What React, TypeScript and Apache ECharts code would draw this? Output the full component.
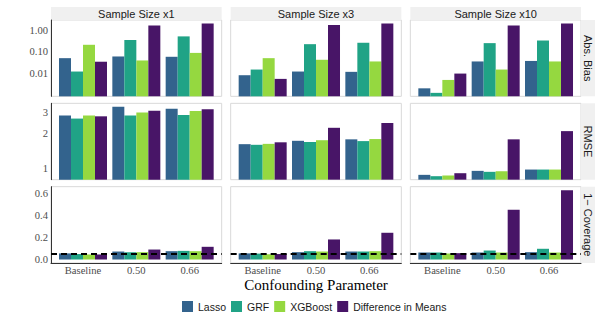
import React, { useEffect, useRef } from 'react';
import * as echarts from 'echarts';

// ---------- data ----------
const categories = ['Baseline', '0.50', '0.66'];
const methods = ['Lasso', 'GRF', 'XGBoost', 'Difference in Means'];
const methodColors = ['#33638D', '#20A386', '#95D840', '#481567'];
const sampleSizes = ['Sample Size x1', 'Sample Size x3', 'Sample Size x10'];
const metrics = ['Abs. Bias', 'RMSE', '1\u2212 Coverage'];

// each panel: one row per method (Lasso, GRF, XGBoost, Difference in Means), values per category
const biasX1 = [
  [0.051, 0.061, 0.059],
  [0.0124, 0.35, 0.51],
  [0.21, 0.04, 0.089],
  [0.035, 1.63, 2.0],
];
const biasX3 = [
  [0.0084, 0.0124, 0.012],
  [0.0153, 0.224, 0.26],
  [0.051, 0.043, 0.036],
  [0.0057, 1.68, 2.0],
];
const biasX10 = [
  [0.0021, 0.036, 0.038],
  [0.0013, 0.25, 0.33],
  [0.0051, 0.0153, 0.036],
  [0.01, 1.63, 2.0],
];
const rmseX1 = [
  [2.83, 3.36, 3.24],
  [2.67, 2.83, 2.86],
  [2.83, 3.01, 3.09],
  [2.79, 3.11, 3.21],
];
const rmseX3 = [
  [1.62, 1.73, 1.78],
  [1.6, 1.69, 1.72],
  [1.63, 1.75, 1.79],
  [1.68, 2.23, 2.45],
];
const rmseX10 = [
  [0.89, 0.962, 0.987],
  [0.867, 0.944, 0.987],
  [0.879, 0.955, 0.987],
  [0.919, 1.78, 2.09],
];
const coverageX1 = [
  [0.056, 0.073, 0.076],
  [0.05, 0.067, 0.079],
  [0.046, 0.067, 0.076],
  [0.046, 0.091, 0.116],
];
const coverageX3 = [
  [0.056, 0.067, 0.073],
  [0.054, 0.076, 0.073],
  [0.048, 0.073, 0.076],
  [0.05, 0.183, 0.244],
];
const coverageX10 = [
  [0.064, 0.064, 0.067],
  [0.064, 0.082, 0.098],
  [0.055, 0.064, 0.064],
  [0.058, 0.454, 0.633],
];
const biasTicks = [0.01, 0.1, 1];
const rmseTicks = [1, 2, 3];
const coverageTicks = [0, 0.2, 0.4, 0.6];
const nominalMiscoverage = 0.05;

const biasPanels = [biasX1, biasX3, biasX10];
const rmsePanels = [rmseX1, rmseX3, rmseX10];
const coveragePanels = [coverageX1, coverageX3, coverageX10];

// ---------- layout ----------
const PANEL_LEFT = 51;
const PANEL_W = 170.67;
const GAP_X = 9;
const PANEL_TOP = 20;
const PANEL_H = 76.33;
const GAP_Y = 7;
const STRIP_TOP_Y = 7;
const STRIP_TOP_H = 13;
const STRIP_RIGHT_W = 14;

const SERIF = '"Liberation Serif", "Times New Roman", serif';
const SANS = '"Liberation Sans", Arial, Helvetica, sans-serif';

function expandLog(panels: number[][][]) {
  const logs = panels.flat(2).map((v) => Math.log10(v));
  const mn = Math.min(...logs);
  const mx = Math.max(...logs);
  const span = mx - mn;
  return [mn - 0.05 * span, mx + 0.05 * span];
}

function buildOption() {
  const [biasLo, biasHi] = expandLog(biasPanels);
  const [rmseLo, rmseHi] = expandLog(rmsePanels);
  const covMax = Math.max(...coveragePanels.flat(2));
  const covLo = -0.05 * covMax;
  const covHi = covMax * 1.05;

  const rows = [
    {
      panels: biasPanels,
      toY: (v: number) => Math.log10(v) - biasLo,
      min: 0,
      max: biasHi - biasLo,
      ticks: biasTicks.map((t) => Math.log10(t) - biasLo),
      fmt: (v: number) => Math.pow(10, v + biasLo).toFixed(2),
    },
    {
      panels: rmsePanels,
      toY: (v: number) => Math.log10(v) - rmseLo,
      min: 0,
      max: rmseHi - rmseLo,
      ticks: rmseTicks.map((t) => Math.log10(t) - rmseLo),
      fmt: (v: number) => String(Math.round(Math.pow(10, v + rmseLo))),
    },
    {
      panels: coveragePanels,
      toY: (v: number) => v,
      min: covLo,
      max: covHi,
      ticks: coverageTicks,
      fmt: (v: number) => v.toFixed(1),
    },
  ];

  const grid: any[] = [];
  const xAxis: any[] = [];
  const yAxis: any[] = [];
  const series: any[] = [];
  const graphic: any[] = [];

  const colLeft = (c: number) => PANEL_LEFT + c * (PANEL_W + GAP_X);
  const rowTop = (r: number) => PANEL_TOP + r * (PANEL_H + GAP_Y);

  rows.forEach((row, r) => {
    for (let c = 0; c < 3; c++) {
      const idx = r * 3 + c;
      grid.push({
        left: colLeft(c),
        top: rowTop(r),
        width: PANEL_W,
        height: PANEL_H,
        show: true,
        backgroundColor: '#FFFFFF',
        borderColor: '#D9D9D9',
        borderWidth: 1,
        containLabel: false,
      });
      xAxis.push({
        type: 'value',
        gridIndex: idx,
        min: 0.4,
        max: 3.6,
        splitLine: { show: false },
        axisTick: { show: false },
        axisLine: { show: r === 2, onZero: false, lineStyle: { color: '#333333', width: 1 } },
        axisLabel: {
          show: r === 2,
          customValues: [1, 2, 3],
          formatter: (v: number) => categories[Math.round(v) - 1] ?? '',
          fontFamily: SERIF,
          fontSize: 10.6,
          color: '#4D4D4D',
          margin: 2,
        },
        ...(idx === 7
          ? {
              name: 'Confounding Parameter',
              nameLocation: 'middle',
              nameGap: 22,
              nameTextStyle: {
                fontFamily: SERIF,
                fontSize: 15,
                color: '#000000',
                verticalAlign: 'middle',
              },
            }
          : {}),
      });
      yAxis.push({
        type: 'value',
        gridIndex: idx,
        min: row.min,
        max: row.max,
        splitLine: { show: false },
        axisTick: { show: false },
        axisLine: { show: c === 0, onZero: false, lineStyle: { color: '#333333', width: 1 } },
        axisLabel: {
          show: c === 0,
          customValues: row.ticks,
          formatter: row.fmt,
          fontFamily: SERIF,
          fontSize: 10.6,
          color: '#4D4D4D',
          margin: 3,
        },
      });
      const panel = row.panels[c];
      methods.forEach((m, mi) => {
        const s: any = {
          type: 'bar',
          name: m,
          xAxisIndex: idx,
          yAxisIndex: idx,
          barGap: '0%',
          barCategoryGap: '10%',
          itemStyle: { color: methodColors[mi] },
          silent: true,
          data: categories.map((_, k) => [k + 1, row.toY(panel[mi][k])]),
        };
        if (r === 2 && mi === methods.length - 1) {
          s.markLine = {
            silent: true,
            symbol: 'none',
            label: { show: false },
            lineStyle: { color: '#000000', type: [6, 4], width: 2 },
            data: [{ yAxis: nominalMiscoverage }],
          };
        }
        series.push(s);
      });
    }
  });

  // top strips
  sampleSizes.forEach((label, c) => {
    graphic.push({
      type: 'rect',
      shape: { x: colLeft(c), y: STRIP_TOP_Y, width: PANEL_W, height: STRIP_TOP_H },
      style: { fill: '#F0F0F0' },
      silent: true,
    });
    graphic.push({
      type: 'text',
      x: colLeft(c) + PANEL_W / 2,
      y: STRIP_TOP_Y + STRIP_TOP_H / 2 + 0.5,
      style: {
        text: label,
        fontFamily: SANS,
        fontSize: 11,
        fill: '#1A1A1A',
        align: 'center',
        verticalAlign: 'middle',
      },
      silent: true,
    });
  });
  // right strips
  const stripX = colLeft(2) + PANEL_W;
  metrics.forEach((label, r) => {
    graphic.push({
      type: 'rect',
      shape: { x: stripX, y: rowTop(r), width: STRIP_RIGHT_W, height: PANEL_H },
      style: { fill: '#F0F0F0' },
      silent: true,
    });
    graphic.push({
      type: 'text',
      x: stripX + STRIP_RIGHT_W / 2,
      y: rowTop(r) + PANEL_H / 2,
      rotation: -Math.PI / 2,
      style: {
        text: label,
        fontFamily: SANS,
        fontSize: 11,
        fill: '#1A1A1A',
        align: 'center',
        verticalAlign: 'middle',
      },
      silent: true,
    });
  });

  return {
    animation: false,
    backgroundColor: '#FFFFFF',
    grid,
    xAxis,
    yAxis,
    series,
    graphic,
    legend: {
      data: methods,
      top: 301,
      left: 182,
      padding: 0,
      itemWidth: 11,
      itemHeight: 11,
      itemGap: 5,
      icon: 'rect',
      selectedMode: false,
      textStyle: { fontFamily: SANS, fontSize: 10.5, color: '#1A1A1A' },
    },
  };
}

export default function App() {
  const ref = useRef<HTMLDivElement>(null);
  useEffect(() => {
    if (!ref.current) return;
    const chart = echarts.init(ref.current, undefined, { renderer: 'svg' });
    chart.setOption(buildOption() as any);
    return () => chart.dispose();
  }, []);
  return (
    <div
      ref={ref}
      style={{ position: 'fixed', left: 0, top: 0, width: 608, height: 320, background: '#fff' }}
    />
  );
}
